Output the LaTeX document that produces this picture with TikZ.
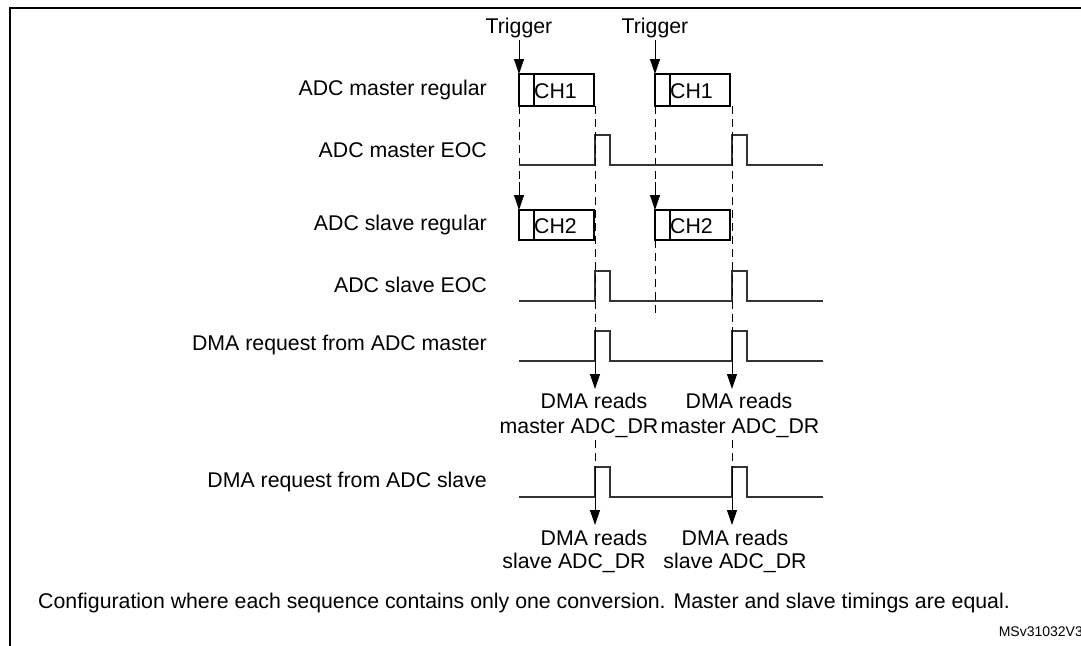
\documentclass[tikz,border=0pt]{standalone}
\usepackage{fontspec}
\setmainfont{Liberation Sans}
\usetikzlibrary{arrows.meta}
\begin{document}
\begin{tikzpicture}[x=1pt,y=-1pt,
  lbl/.style={anchor=east,inner sep=0pt,font=\fontsize{21.3}{25}\selectfont},
  txt/.style={inner sep=0pt,font=\fontsize{21.3}{25}\selectfont},
  sig/.style={line width=1.3pt,black!80},
  dsh/.style={line width=1pt,dash pattern=on 8pt off 5pt},
  arr/.style={line width=1pt,-{Triangle[length=15pt,width=10pt]}},
  box/.style={line width=1.1pt}]
\useasboundingbox (0,0) rectangle (1081,645);
\draw[line width=1.8pt] (10,8) rectangle (1095,660);
% labels
\node[lbl] at (487,90) {ADC master regular};
\node[lbl] at (487,150) {ADC master EOC};
\node[lbl] at (487,225) {ADC slave regular};
\node[lbl] at (487,285) {ADC slave EOC};
\node[lbl] at (487,345) {DMA request from ADC master};
\node[lbl] at (487,482) {DMA request from ADC slave};
% triggers
\foreach \x/\n in {519/a,655/b}{
  \node[txt] (trig\n) at (\x,28) {Trigger};
  \coordinate (ts\n) at (\x,40);
  \coordinate (te\n) at (\x,74);
  \draw[arr] (ts\n) -- (te\n);
  \draw[box] (\x,74) rectangle ++(75,32);
  \draw[box] (\x+15,74) -- (\x+15,106);
  \node[txt,anchor=west] at (\x+15,91) {CH1};
  \coordinate (da\n) at (\x,106);
  \coordinate (db\n) at (\x,182);
  \coordinate (sb\n) at (\x,210);
  \draw[dsh] (da\n) -- (db\n);
  \draw[arr] (db\n) -- (sb\n);
  \draw[box] (\x,210) rectangle ++(75,30);
  \draw[box] (\x+15,210) -- (\x+15,240);
  \node[txt,anchor=west] at (\x+15,226) {CH2};
}
\draw[dsh] (655,240) -- (655,318);
% waveforms
\foreach \h/\l in {135/165,271/301,331/361,467/497}{
  \draw[sig] (519,\l) -- (595,\l) -- (595,\h) -- (610,\h) -- (610,\l) -- (732,\l) -- (732,\h) -- (747,\h) -- (747,\l) -- (823,\l);
}
% DMA read arrows
\foreach \x/\n in {595/a,732/b}{
  \coordinate (p\n) at (\x,106);
  \coordinate (q\n) at (\x,331);
  \coordinate (r\n) at (\x,389);
  \coordinate (s\n) at (\x,440);
  \coordinate (t\n) at (\x,467);
  \coordinate (u\n) at (\x,525);
  \draw[dsh] (p\n) -- (q\n);
  \draw[arr] (q\n) -- (r\n);
  \draw[dsh] (s\n) -- (t\n);
  \draw[arr] (t\n) -- (u\n);
}
\node[txt] at (594,401) {DMA reads};
\node[txt] at (579,428) {master ADC\_DR};
\node[txt] at (739,401) {DMA reads};
\node[txt] at (740,428) {master ADC\_DR};
\node[txt] at (594,538) {DMA reads};
\node[txt] at (574,563) {slave ADC\_DR};
\node[txt] at (735,538) {DMA reads};
\node[txt] at (735,563) {slave ADC\_DR};
\node[txt,anchor=west] at (38,603) {Configuration where each sequence contains only one conversion. Master and slave timings are equal.};
\node[inner sep=0pt,anchor=east,font=\fontsize{14}{16}\selectfont] at (1083,632) {MSv31032V3};
\end{tikzpicture}
\end{document}
